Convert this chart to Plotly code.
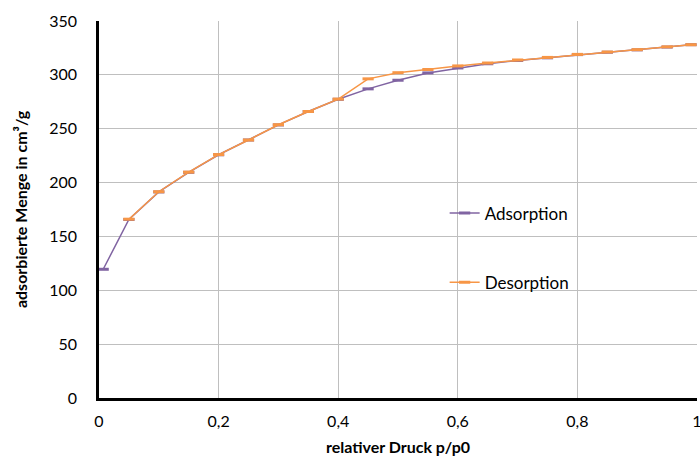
import plotly.graph_objects as go

x_ads = [0.007, 0.05, 0.10, 0.15, 0.20, 0.25, 0.30, 0.35, 0.40, 0.45, 0.50,
         0.55, 0.60, 0.65, 0.70, 0.75, 0.80, 0.85, 0.90, 0.95, 0.99]
y_ads = [119.5, 165.7, 191.3, 209.5, 225.8, 239.5, 253.5, 266.0, 277.3, 287.0, 295.0,
         301.8, 306.4, 310.3, 313.3, 315.8, 318.8, 321.0, 323.2, 325.8, 328.0]

x_des = [0.99, 0.95, 0.90, 0.85, 0.80, 0.75, 0.70, 0.65, 0.60, 0.55, 0.50,
         0.45, 0.40, 0.35, 0.30, 0.25, 0.20, 0.15, 0.10, 0.05]
y_des = [328.0, 326.0, 323.4, 321.2, 319.0, 316.2, 313.8, 311.0, 308.3, 305.0, 302.0,
         296.3, 277.5, 266.0, 253.7, 239.5, 226.0, 209.7, 191.5, 166.0]

x_ticks = [0, 0.2, 0.4, 0.6, 0.8, 1]
x_tick_labels = ["0", "0,2", "0,4", "0,6", "0,8", "1"]
y_ticks = [0, 50, 100, 150, 200, 250, 300, 350]

purple = "#8064A2"
orange = "#F79646"
font = "Lato, 'Open Sans', sans-serif"

fig = go.Figure()
fig.add_trace(go.Scatter(
    x=x_ads, y=y_ads, name="Adsorption", mode="lines+markers",
    line=dict(color=purple, width=1.5),
    marker=dict(symbol="line-ew", size=8, line=dict(color=purple, width=3)),
    legendgroup="a",
))
fig.add_trace(go.Scatter(
    x=x_des, y=y_des, name="Desorption", mode="lines+markers",
    line=dict(color=orange, width=1.5),
    marker=dict(symbol="line-ew", size=8, line=dict(color=orange, width=3)),
    legendgroup="d",
))

fig.update_layout(
    width=700, height=457,
    margin=dict(l=99, r=3, t=21, b=59, autoexpand=False),
    paper_bgcolor="white", plot_bgcolor="white",
    font=dict(family=font, size=16, color="#000000"),
    showlegend=True,
    legend=dict(x=0.578, y=0.537, xanchor="left", yanchor="top",
                bgcolor="rgba(0,0,0,0)", tracegroupgap=44,
                font=dict(size=17, family=font)),
    xaxis=dict(
        range=[0, 1], tickvals=x_ticks, ticktext=x_tick_labels,
        showgrid=True, gridcolor="#BFBFBF", gridwidth=1,
        showline=True, linecolor="black", linewidth=2.5,
        zeroline=False, ticks="", ticklabelstandoff=7,
        ticklabeloverflow="allow", automargin=False,
        tickfont=dict(size=16),
        title=dict(text="<b>relativer Druck p/p0</b>", font=dict(size=16), standoff=13),
    ),
    yaxis=dict(
        range=[0, 350], tickvals=y_ticks,
        showgrid=True, gridcolor="#BFBFBF", gridwidth=1,
        showline=True, linecolor="black", linewidth=2.5,
        zeroline=False, ticks="", ticklabelstandoff=16,
        ticklabeloverflow="allow", automargin=False,
        tickfont=dict(size=16),
        title=dict(text="<b>adsorbierte Menge in cm³/g</b>", font=dict(size=16), standoff=18),
    ),
)

fig.write_html("out.html")
